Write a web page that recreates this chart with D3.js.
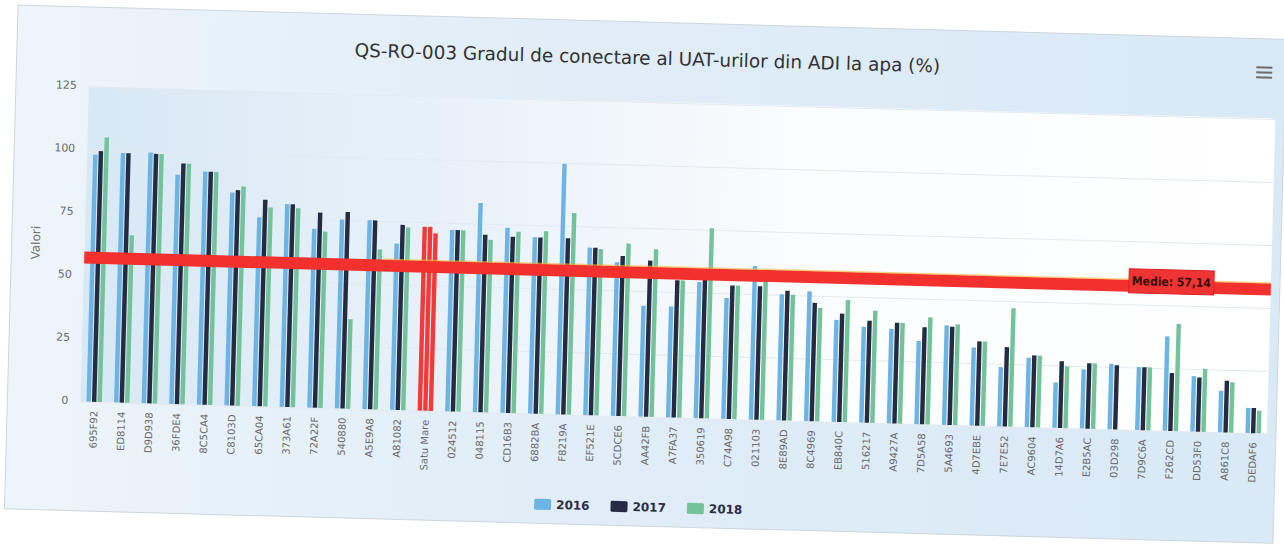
<!DOCTYPE html>
<html>
<head>
<meta charset="utf-8">
<script src="https://cdn.jsdelivr.net/npm/d3@7"></script>
<style>
  html, body { margin: 0; padding: 0; background: #ffffff; }
  svg { display: block; }
</style>
</head>
<body>
<svg id="chart" width="1284" height="551"></svg>
<script>
// ---------------- DATA ----------------
const categories = ["695F92","ED8114","D9D938","36FDE4","8C5CA4","C8103D","65CA04","373A61","72A22F","540880",
  "A5E9A8","A81082","Satu Mare","024512","048115","CD16B3","6882BA","F8219A","EF521E","5CDCE6",
  "AA42FB","A7FA37","350619","C74A98","021103","8E89AD","8C4969","EB840C","516217","A9427A",
  "7D5A58","5A4693","4D7EBE","7E7E52","AC9604","14D7A6","E2B5AC","03D298","7D9C6A","F262CD",
  "DD53F0","A861C8","DEDAF6"];
const seriesNames = ["2016", "2017", "2018"];
const values2016 = [98, 99, 99.5, 91, 92.5, 84.5, 75, 80.5, 71, 75,
  75, 66, 73, 72, 83, 73.5, 70, 99.5, 66.5, 61,
  44, 44, 54, 48, 61, 50, 51.5, 40.5, 38, 37.5,
  33, 39.5, 31, 23.5, 27.5, 18, 23.5, 26, 25, 37.5,
  22, 16.5, 10];
const values2017 = [99.5, 99, 99, 95.5, 92.5, 85.5, 82, 80.5, 77.5, 78,
  75, 73.5, 73, 72, 70.5, 70, 70, 70, 66.5, 63.5,
  62, 54.5, 55, 53, 53, 51.5, 47, 43, 40.5, 40,
  38.5, 39, 33.5, 31.5, 28.5, 26.5, 26, 25.5, 25, 23,
  21.5, 20.5, 10];
const values2018 = [105, 66.5, 99, 95.5, 92.5, 87, 79, 79, 70, 35.5,
  63.5, 72.5, 70.5, 72, 68.5, 72, 72.5, 80, 66, 68.5,
  66.5, 54.5, 75.5, 53, 55.5, 50, 45, 48.5, 44.5, 40,
  42.5, 40, 33.5, 47, 28.5, 24.5, 26, null, 25, 42.5,
  25, 20, 9];
const yTicks = [0, 25, 50, 75, 100, 125];
const averageValue = 57.14;
const averageLabel = "Medie: 57,14";
const highlightedCategory = "Satu Mare";
const titleText = "QS-RO-003 Gradul de conectare al UAT-urilor din ADI la apa (%)";
const yAxisTitle = "Valori";

// ---------------- STYLE / LAYOUT ----------------
const seriesColors = ["#6cb3e6", "#252b42", "#72c29a"];
const highlightColor = "#f23a3a";
const lineColor = "#f2302e";
const fontFamily = "'DejaVu Sans', 'Liberation Sans', sans-serif";
const frame = { x0: 11, y0: 22, x1: 1280, y1: 526 };
const plot = { left: 84, right: 1271, top: 101.6, bottom: 416.6 };

const svg = d3.select("#chart");
const defs = svg.append("defs");

const bgGrad = defs.append("linearGradient").attr("id", "bgGrad")
  .attr("x1", "0").attr("y1", "0").attr("x2", "1").attr("y2", "0");
bgGrad.append("stop").attr("offset", "0").attr("stop-color", "#eef5fa");
bgGrad.append("stop").attr("offset", "0.35").attr("stop-color", "#e2eef8");
bgGrad.append("stop").attr("offset", "1").attr("stop-color", "#d9e9f6");

const plotGrad = defs.append("linearGradient").attr("id", "plotGrad")
  .attr("x1", "0").attr("y1", "0").attr("x2", "1").attr("y2", "0");
plotGrad.append("stop").attr("offset", "0").attr("stop-color", "#d8e8f5");
plotGrad.append("stop").attr("offset", "0.3").attr("stop-color", "#e8f1f9");
plotGrad.append("stop").attr("offset", "0.6").attr("stop-color", "#fafcfe");
plotGrad.append("stop").attr("offset", "1").attr("stop-color", "#ffffff");

// the photographed chart is slightly tilted
const root = svg.append("g").attr("transform", "rotate(1.55,642,275)");

root.append("rect")
  .attr("x", frame.x0).attr("y", frame.y0)
  .attr("width", frame.x1 - frame.x0).attr("height", frame.y1 - frame.y0)
  .attr("fill", "url(#bgGrad)").attr("stroke", "#cdd6de").attr("stroke-width", 1);

root.append("rect")
  .attr("x", plot.left).attr("y", plot.top)
  .attr("width", plot.right - plot.left).attr("height", plot.bottom - plot.top)
  .attr("fill", "url(#plotGrad)");

// ---------------- SCALES ----------------
const x = d3.scaleBand().domain(categories).range([plot.left, plot.right]).paddingInner(0).paddingOuter(0);
const groupW = x.bandwidth() * 0.6;
const xInner = d3.scaleBand().domain(seriesNames)
  .range([x.bandwidth() * 0.2, x.bandwidth() * 0.2 + groupW])
  .paddingInner(0.2).paddingOuter(0.1);
const y = d3.scaleLinear().domain([0, 125]).range([plot.bottom, plot.top]);

// gridlines
root.append("g").selectAll("line").data(yTicks).join("line")
  .attr("x1", plot.left).attr("x2", plot.right)
  .attr("y1", d => Math.round(y(d)) + 0.5).attr("y2", d => Math.round(y(d)) + 0.5)
  .attr("stroke", "#e3eaf0").attr("stroke-width", 1);

// y axis labels
const yAxis = d3.axisLeft(y).tickValues(yTicks).tickSize(0).tickPadding(0);
const yAxisG = root.append("g").attr("transform", `translate(${plot.left - 12},0)`).call(yAxis);
yAxisG.select(".domain").remove();
yAxisG.selectAll("text")
  .attr("font-family", fontFamily).attr("font-size", 11).attr("fill", "#6a6a6a")
  .attr("dy", "0.2em");

root.append("text")
  .attr("transform", `translate(35,${(plot.top + plot.bottom) / 2}) rotate(-90)`)
  .attr("text-anchor", "middle").attr("dy", "0.35em")
  .attr("font-family", fontFamily).attr("font-size", 12).attr("fill", "#757575")
  .text(yAxisTitle);

// ---------------- BARS ----------------
const seriesValues = [values2016, values2017, values2018];
const barData = [];
categories.forEach((c, i) => {
  seriesNames.forEach((s, j) => {
    const v = seriesValues[j][i];
    if (v !== null && v !== undefined) barData.push({ cat: c, series: s, si: j, value: v });
  });
});

root.append("g").selectAll("rect").data(barData).join("rect")
  .attr("x", d => x(d.cat) + xInner(d.series))
  .attr("y", d => y(d.value))
  .attr("width", xInner.bandwidth())
  .attr("height", d => y(0) - y(d.value))
  .attr("fill", d => d.cat === highlightedCategory ? highlightColor : seriesColors[d.si]);

// x axis labels
const xAxis = d3.axisBottom(x).tickSize(0).tickPadding(0);
const xAxisG = root.append("g").attr("transform", `translate(0,${plot.bottom})`).call(xAxis);
xAxisG.select(".domain").remove();
xAxisG.selectAll("text")
  .attr("font-family", fontFamily).attr("font-size", 10).attr("fill", "#6a6a6a")
  .attr("text-anchor", "end")
  .attr("transform", "translate(0,9) rotate(-90)")
  .attr("x", 0).attr("y", 0).attr("dy", "0.35em");

// ---------------- AVERAGE LINE ----------------
const yAvg = y(averageValue);
root.append("line")
  .attr("x1", plot.left).attr("x2", plot.right)
  .attr("y1", yAvg).attr("y2", yAvg)
  .attr("stroke", lineColor).attr("stroke-width", 12);
root.append("line")
  .attr("x1", plot.left + 300).attr("x2", plot.right)
  .attr("y1", yAvg - 6.5).attr("y2", yAvg - 6.5)
  .attr("stroke", "#f6b43a").attr("stroke-width", 1.5).attr("opacity", 0.6);

const labelG = root.append("g");
const labelText = labelG.append("text")
  .attr("font-family", "'DejaVu Sans Condensed', 'DejaVu Sans', sans-serif")
  .attr("font-weight", "bold").attr("font-size", 12).attr("fill", "#3a0c0c")
  .attr("text-anchor", "end").attr("dy", "0.35em")
  .text(averageLabel);
const lw = labelText.node().getComputedTextLength();
const labelRight = plot.right - 60;
const labelCy = yAvg - 5;
labelG.insert("rect", "text")
  .attr("x", labelRight - lw - 3).attr("y", labelCy - 12)
  .attr("width", lw + 6).attr("height", 24)
  .attr("fill", "#f03434").attr("stroke", "#d82222").attr("stroke-width", 1);
labelText.attr("x", labelRight).attr("y", labelCy);

// ---------------- TITLE ----------------
const title = root.append("text")
  .attr("x", (frame.x0 + frame.x1) / 2 - 4).attr("y", 58)
  .attr("text-anchor", "middle").attr("dy", "0.35em")
  .attr("font-family", fontFamily).attr("font-size", 16).attr("fill", "#333333")
  .text(titleText);
const tw = title.node().getComputedTextLength();
title.attr("font-size", 16 * 586 / tw);

// menu icon
const menuX = 1258.5, menuY = 55.7;
root.append("g").selectAll("line").data([-5, 0, 5]).join("line")
  .attr("x1", menuX - 8).attr("x2", menuX + 8)
  .attr("y1", d => menuY + d).attr("y2", d => menuY + d)
  .attr("stroke", "#6b6b6b").attr("stroke-width", 2);

// ---------------- LEGEND ----------------
const legendG = root.append("g");
let cursor = 0;
const legendItems = [];
seriesNames.forEach((s, j) => {
  const g = legendG.append("g");
  g.append("rect").attr("x", 0).attr("y", -5.5).attr("width", 17).attr("height", 11)
    .attr("rx", 1.5).attr("fill", seriesColors[j]);
  const t = g.append("text").attr("x", 22).attr("y", 0).attr("dy", "0.35em")
    .attr("font-family", fontFamily).attr("font-weight", "bold").attr("font-size", 12)
    .attr("fill", "#2b2f45").text(s);
  const w = 22 + t.node().getComputedTextLength();
  legendItems.push({ g, w });
});
legendItems.forEach((it, k) => {
  it.g.attr("transform", `translate(${cursor},0)`);
  cursor += it.w + (k < legendItems.length - 1 ? 21 : 0);
});
legendG.attr("transform", `translate(${644.5 - cursor / 2},507)`);
</script>
</body>
</html>
